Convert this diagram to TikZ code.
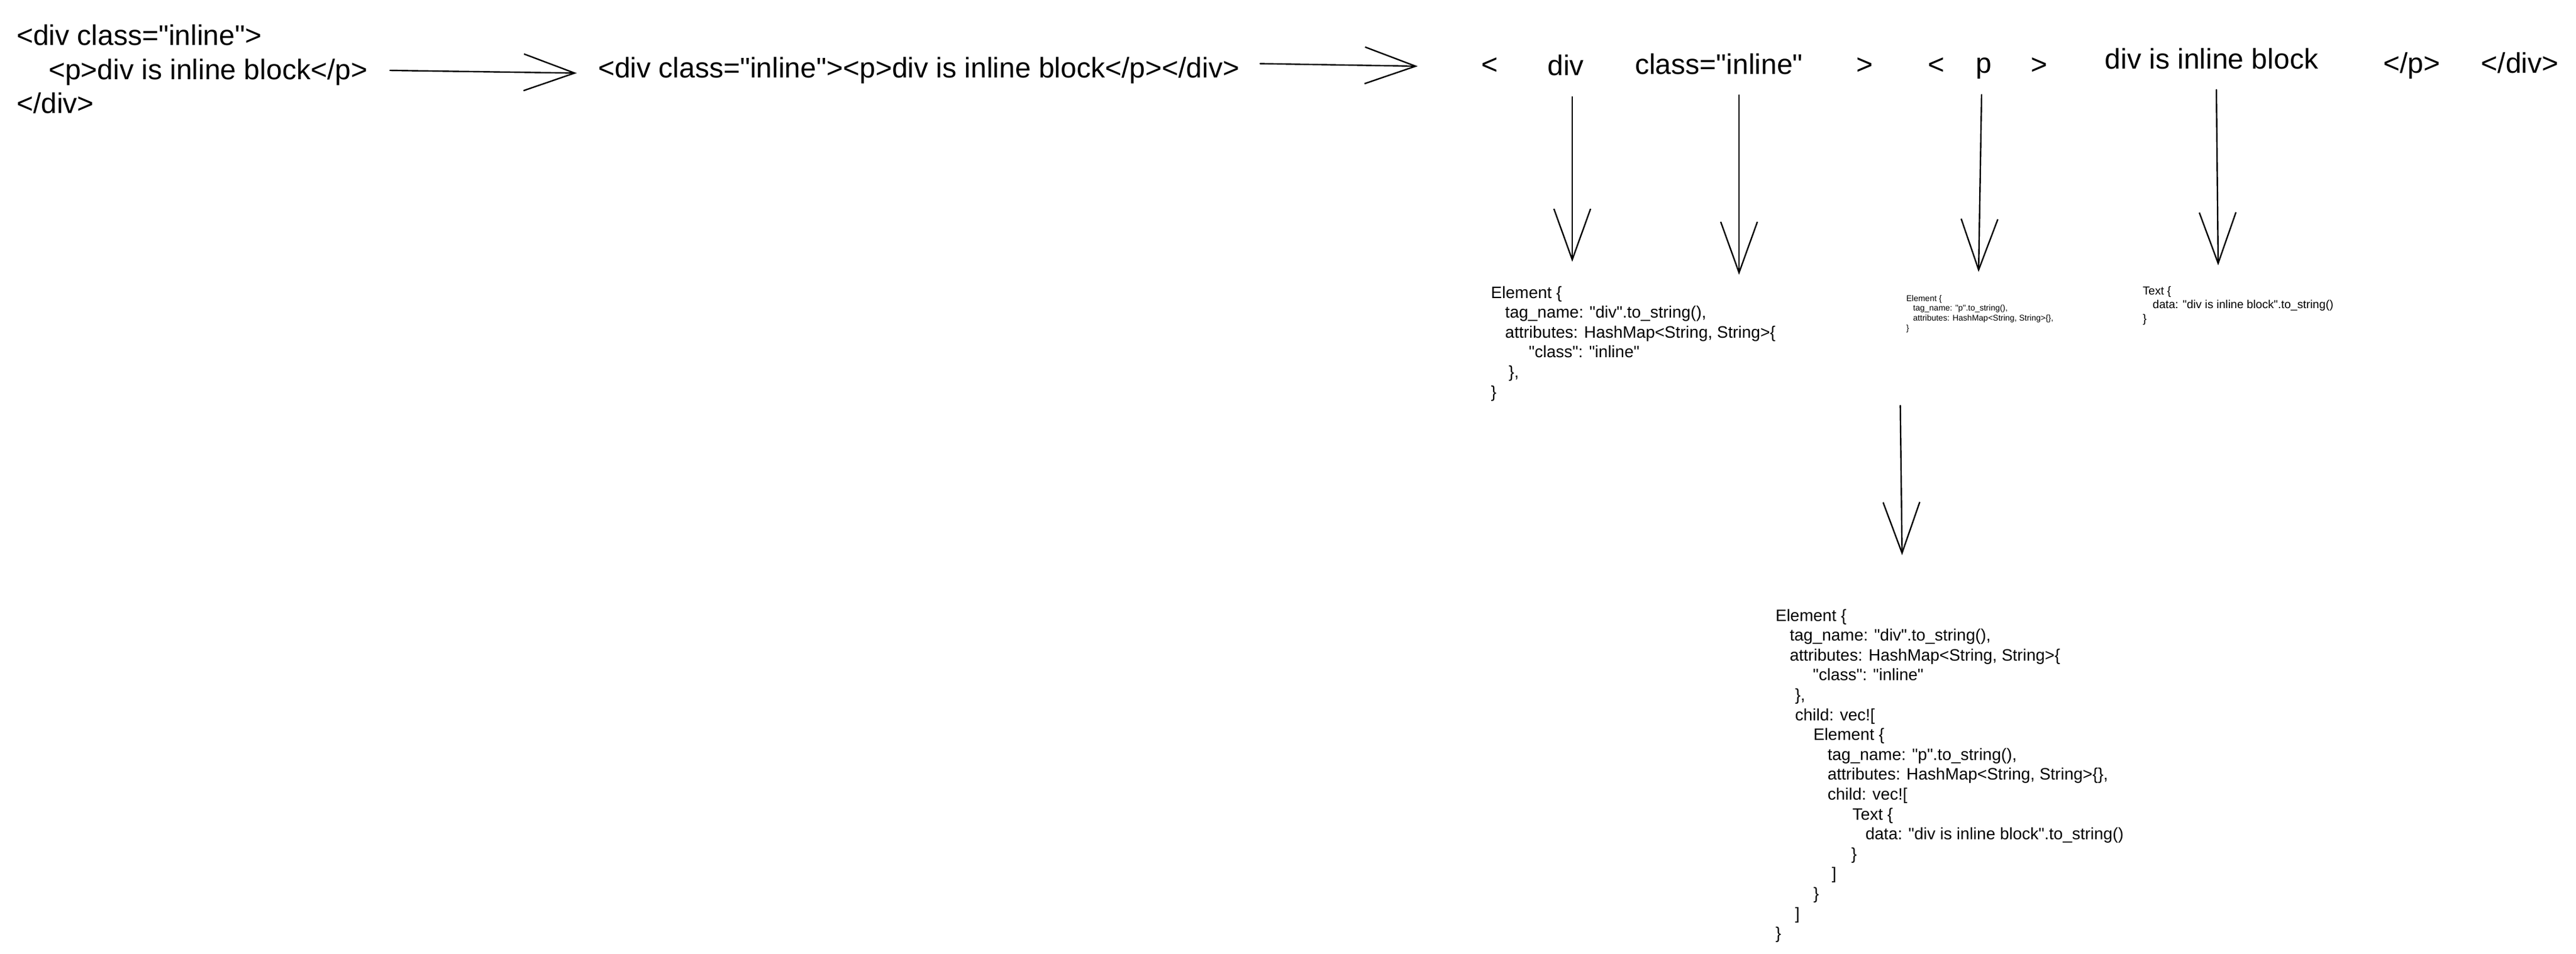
\documentclass[tikz,border=0pt]{standalone}
\usepackage{fontspec}
\setmainfont{Liberation Sans}[Ligatures=TeXOff]
\usetikzlibrary{arrows.meta,calc}
\begin{document}
\begin{tikzpicture}[x=0.25pt,y=-0.25pt,>={Straight Barb[length=21.5pt,width=15.5pt]},line width=0.6pt,line join=round,line cap=round,
  tok/.style={font=\fontsize{12}{14.4}\selectfont,inner sep=0pt},
  code/.style={align=left,inner sep=0pt,anchor=north west},
  codemid/.style={code,font=\fontsize{7}{8.4}\selectfont}]
\def\W{4355} \def\H{1613}
\fill[white,use as bounding box] (0,0) rectangle (\W,\H);
\node[tok,align=left,anchor=north west] (src) at (27,40.6) {<div class="inline">\\\hspace*{13.5pt}<p>div is inline block</p>\\</div>};
\node[tok,anchor=base west] (flat) at (1010,132) {<div class="inline"><p>div is inline block</p></div>};
\foreach \nm/\cx/\by/\txt in {tlt/2518/126/{<}, tdiv/2647/128/div, tclass/2906/126/{class="inline"}, tgt/3152/126/{>}, tltp/3273/126/{<}, tp/3354/124/p, tgtp/3447/126/{>}, ttext/3739/117/{div is inline block}, tpend/4077/124/{</p>}, tdivend/4260/124/{</div>}}
  \node[tok,anchor=base] (\nm) at (\cx,\by) {\txt};
\node[codemid] (box1) at (2519.5,482.6) {Element \{\\
\hspace*{6pt}tag\_name: "div".to\_string(),\\
\hspace*{6pt}attributes: HashMap<String, String>\{\\
\hspace*{16pt}"class": "inline"\\
\hspace*{7.5pt}\},\\
\}};
\node[code,font=\fontsize{3.5}{4.2}\selectfont] (box2) at (3221.6,497.8) {Element \{\\
\hspace*{2.9pt}tag\_name: "p".to\_string(),\\
\hspace*{2.9pt}attributes: HashMap<String, String>\{\},\\
\}};
\node[code,font=\fontsize{4.9}{5.88}\selectfont] (box3) at (3621.3,482.7) {Text \{\\
\hspace*{4.2pt}data: "div is inline block".to\_string()\\
\}};
\node[codemid] (tree) at (3000.6,1028.6) {Element \{\\
\hspace*{6pt}tag\_name: "div".to\_string(),\\
\hspace*{6pt}attributes: HashMap<String, String>\{\\
\hspace*{15.75pt}"class": "inline"\\
\hspace*{8.25pt}\},\\
\hspace*{8.25pt}child: vec![\\
\hspace*{16pt}Element \{\\
\hspace*{22pt}tag\_name: "p".to\_string(),\\
\hspace*{22pt}attributes: HashMap<String, String>\{\},\\
\hspace*{22pt}child: vec![\\
\hspace*{32.5pt}Text \{\\
\hspace*{38pt}data: "div is inline block".to\_string()\\
\hspace*{32pt}\}\\
\hspace*{23.75pt}]\\
\hspace*{16pt}\}\\
\hspace*{8.25pt}]\\
\}};
\draw[->] ($(src.east)+(37,2)$) -- ($(flat.west)+(-35,4)$);
\draw[->] ($(flat.east)+(34,-12)$) -- ($(tlt.west)+(-106,0)$);
\draw[->] ($(tdiv.south)+(11,34)$) -- ($(tdiv.south |- box1.north)+(11,-40)$);
\draw[->] ($(tclass.south)+(34,33)$) -- ($(tclass.south |- box1.north)+(34,-18)$);
\draw[->] ($(tp.south)+(-4,25)$) -- ($(tp.south |- box2.north)+(-9,-38)$);
\draw[->] ($(ttext.south)+(8,33)$) -- ($(ttext.south |- box3.north)+(11,-34)$);
\draw[->] ($(box2.south west)+(-9,122)$) -- ($(box2.south west |- tree.north)+(-6,-90)$);
\end{tikzpicture}
\end{document}
